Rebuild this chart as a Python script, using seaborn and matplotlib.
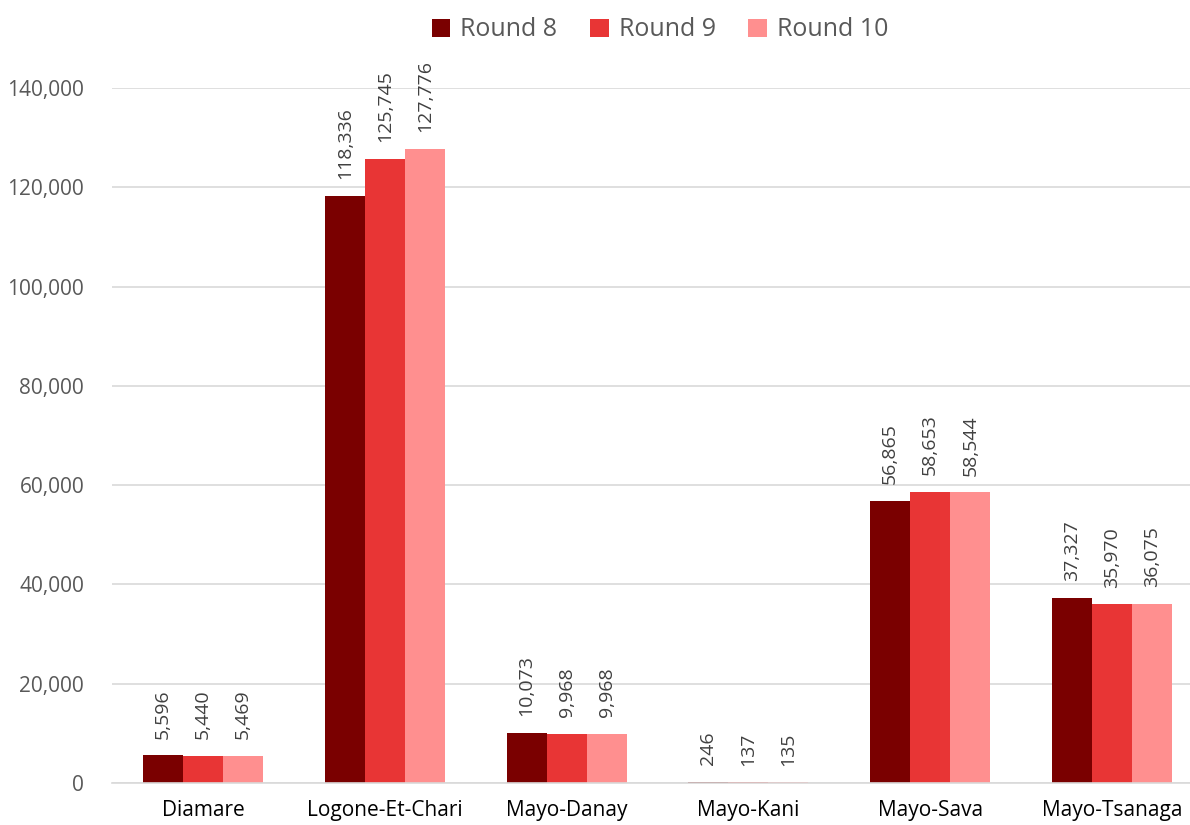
import matplotlib
matplotlib.use("Agg")
import matplotlib.pyplot as plt
import seaborn as sns
import pandas as pd
from matplotlib.ticker import FuncFormatter

departments = ["Diamare", "Logone-Et-Chari", "Mayo-Danay", "Mayo-Kani", "Mayo-Sava", "Mayo-Tsanaga"]
rounds = ["Round 8", "Round 9", "Round 10"]
round_8 = [5596, 118336, 10073, 246, 56865, 37327]
round_9 = [5440, 125745, 9968, 137, 58653, 35970]
round_10 = [5469, 127776, 9968, 135, 58544, 36075]
palette = ["#7A0000", "#E83535", "#FF8F8F"]

rows = []
for rnd, vals in zip(rounds, [round_8, round_9, round_10]):
    for dep, v in zip(departments, vals):
        rows.append({"Department": dep, "Round": rnd, "Value": v})
df = pd.DataFrame(rows)

sns.set_theme(style="white")
plt.rcParams["font.family"] = ["Open Sans", "DejaVu Sans"]

fig = plt.figure(figsize=(11.9, 8.25), dpi=100)
ax = fig.add_axes([112 / 1190, 1 - 783 / 825, 1091 / 1190, (783 - 88) / 825])

sns.barplot(data=df, x="Department", y="Value", hue="Round", hue_order=rounds,
            order=departments, palette=palette, width=0.66, saturation=1,
            errorbar=None, ax=ax, linewidth=0)

ax.set_ylim(0, 140000)
ax.set_yticks(range(0, 140001, 20000))
ax.yaxis.set_major_formatter(FuncFormatter(lambda v, p: f"{int(v):,}"))
ax.grid(axis="y", color="#D9D9D9", linewidth=1.2)
ax.set_axisbelow(True)
for s in ["top", "right", "left"]:
    ax.spines[s].set_visible(False)
ax.spines["bottom"].set_color("#D9D9D9")
ax.spines["bottom"].set_linewidth(1.2)
ax.set_xlabel("")
ax.set_ylabel("")
ax.tick_params(axis="y", labelsize=15, labelcolor="#595959", length=0, pad=20)
ax.tick_params(axis="x", labelsize=15, labelcolor="#000000", length=0, pad=12)

for container in ax.containers:
    ax.bar_label(container, labels=[f"{int(v):,}" for v in container.datavalues],
                 rotation=90, padding=12, fontsize=14, color="#404040")

handles, labels = ax.get_legend_handles_labels()
ax.legend(handles, labels, loc="upper center", bbox_to_anchor=(548 / 1091, 1 + 93 / 695),
          ncol=3, frameon=False, fontsize=18, labelcolor="#595959",
          handlelength=0.75, handleheight=0.75, handletextpad=0.4, columnspacing=1.3)

fig.savefig("out.png", dpi=100)
